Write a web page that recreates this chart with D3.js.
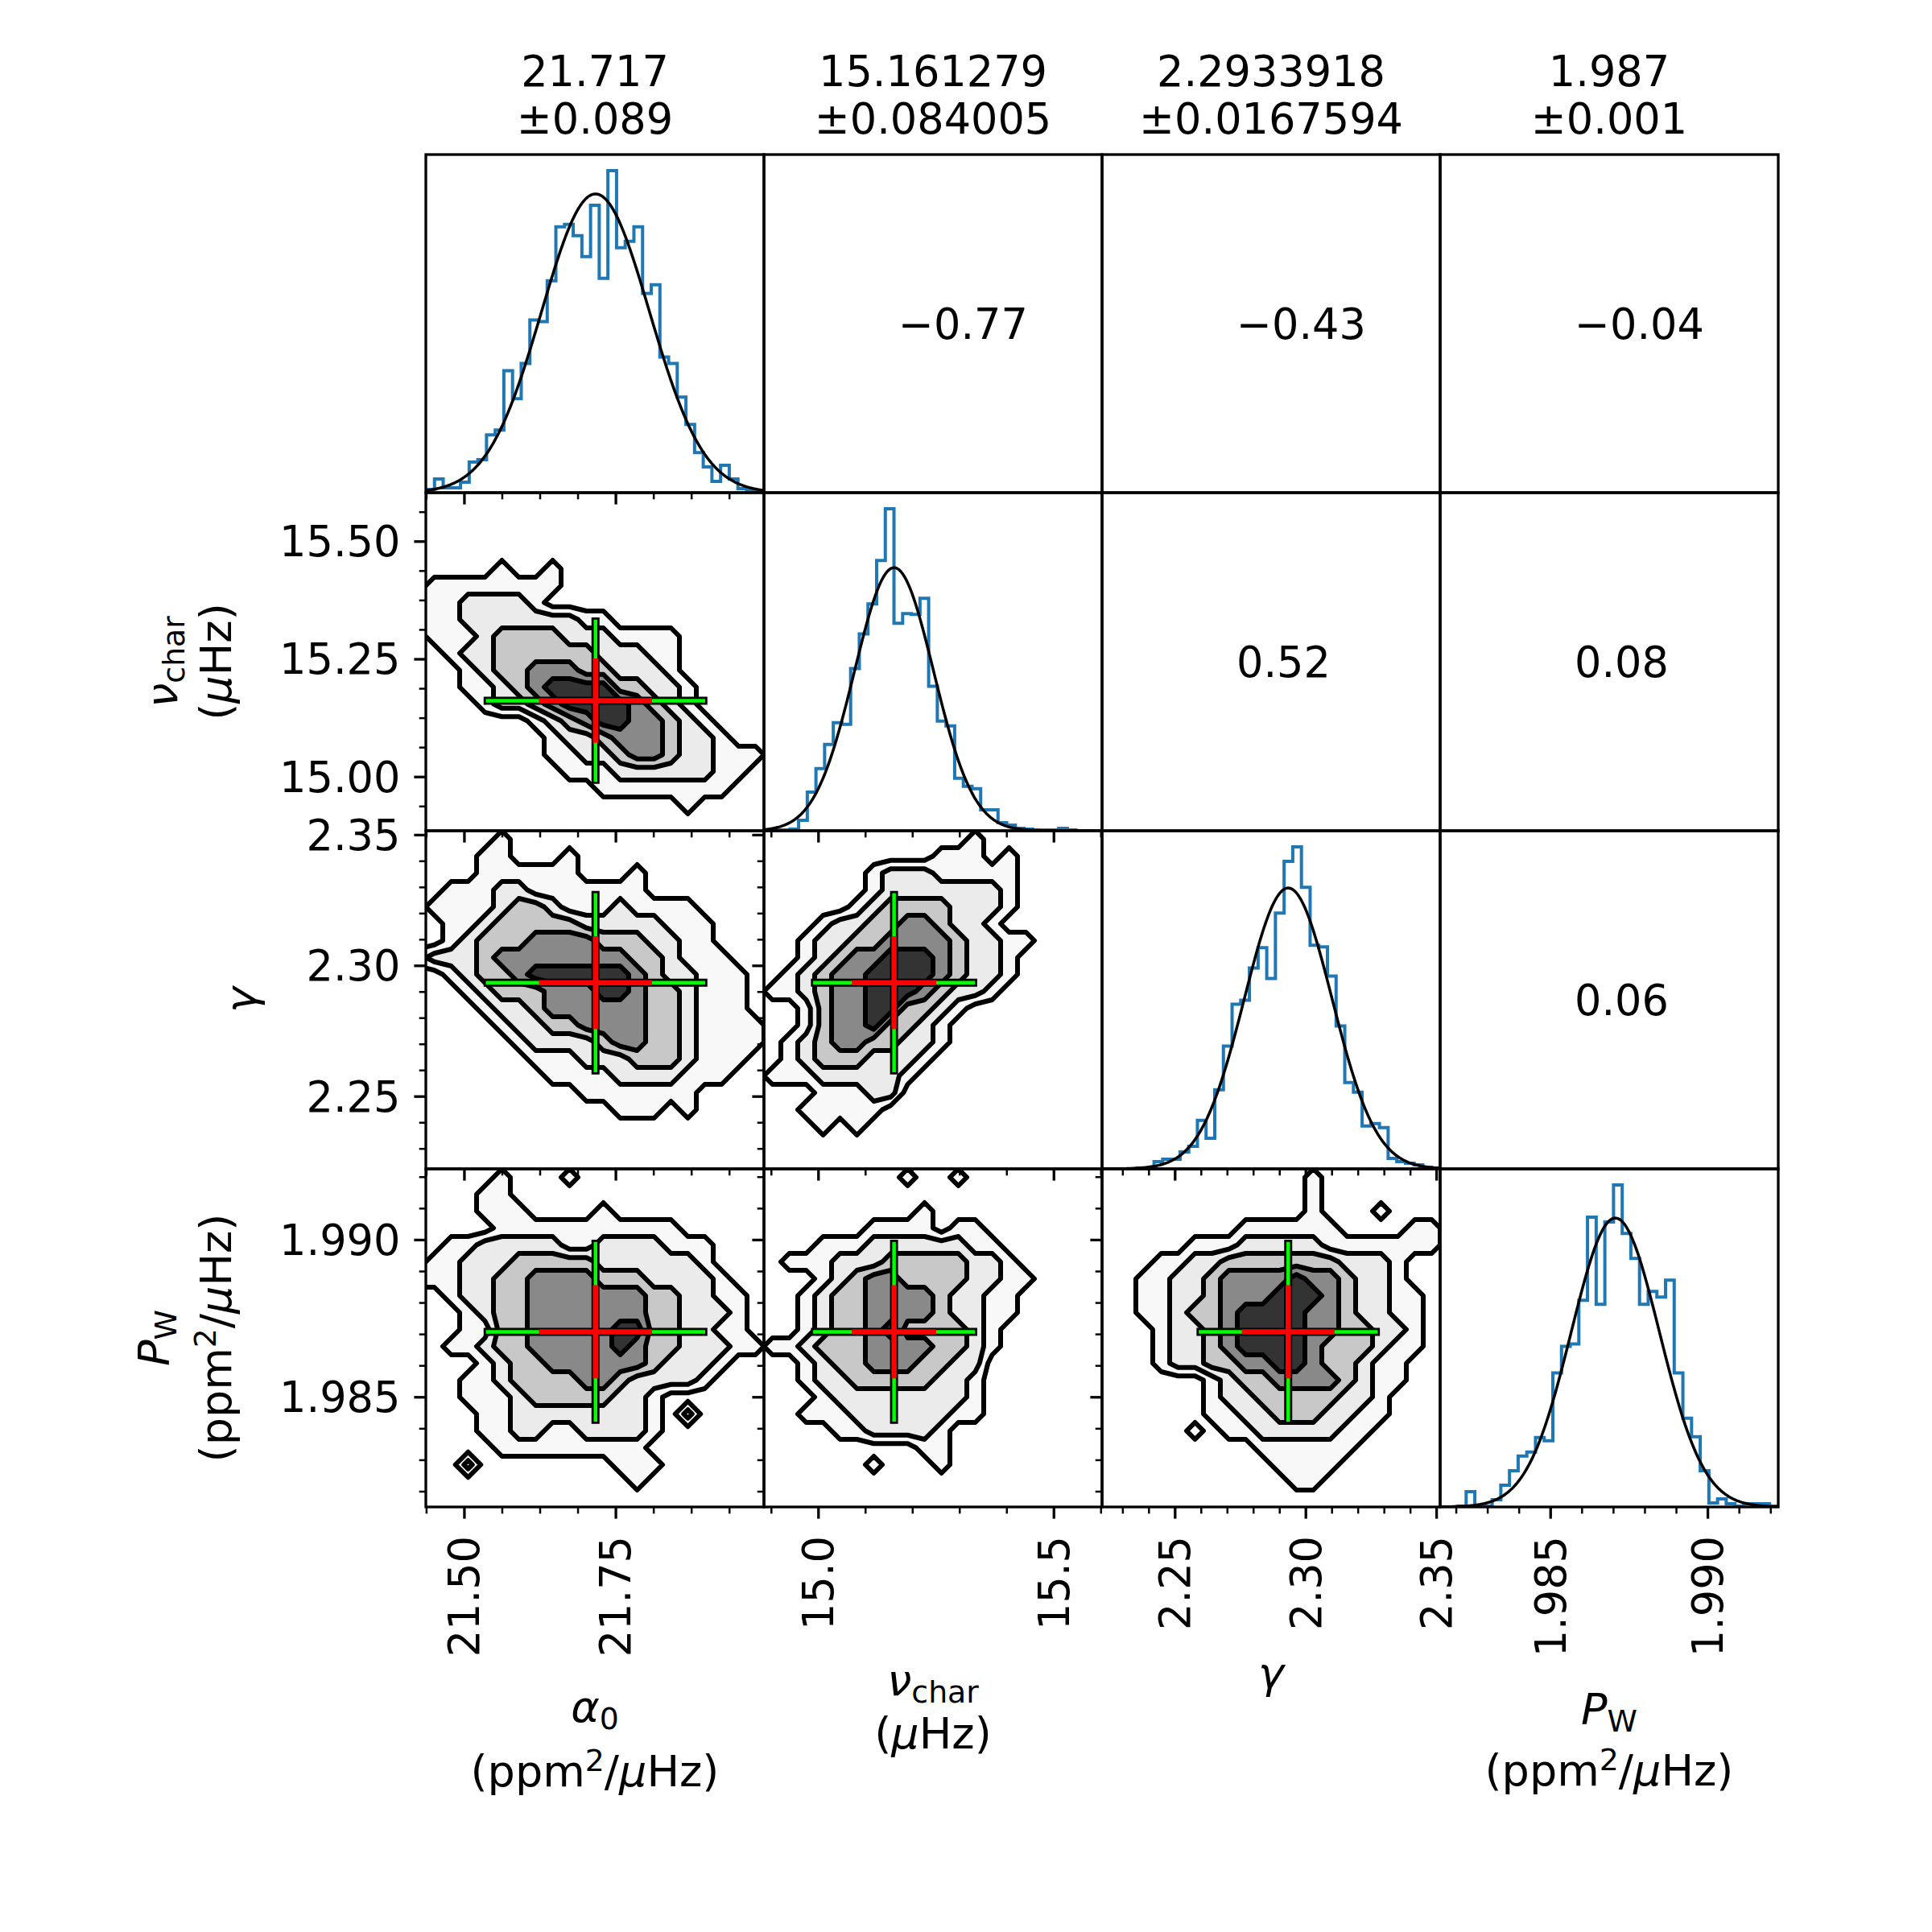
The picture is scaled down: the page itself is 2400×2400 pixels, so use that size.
<!DOCTYPE html>
<html lang="en">
<head>
<meta charset="UTF-8">
<title>Corner plot</title>
<script src="https://cdn.jsdelivr.net/npm/d3@7"></script>
<style>
  body { margin: 0; background: #fff; }
  svg text { font-family: "DejaVu Sans", sans-serif; fill: #000; }
</style>
</head>
<body>
<div id="chart"></div>
<script>
// ---- data ----
const meanLabels = ["21.717", "15.161279", "2.2933918", "1.987"];
const sigmaLabels = ["±0.089", "±0.084005", "±0.0167594", "±0.001"];
// unrounded values used for the crosses and fitted curves
const fitMeans = [21.717, 15.161279, 2.2933918, 1.98707];
const fitSigmas = [0.089, 0.084005, 0.0167594, 0.0014];

const axisMin = [21.437, 14.885, 2.2222, 1.9815];
const axisMax = [21.995, 15.603, 2.3515, 1.99225];

const majorTicksX = [[21.50, 21.75], [15.0, 15.5], [2.25, 2.30, 2.35], [1.985, 1.990]];
const minorStepX = [0.0625, 0.1, 0.01, 0.001];
const tickFormatX = [".2f", ".1f", ".2f", ".3f"];
const majorTicksY = [[], [15.00, 15.25, 15.50], [2.25, 2.30, 2.35], [1.985, 1.990]];
const minorStepY = [0, 0.0625, 0.01, 0.001];
const tickFormatY = ["", ".2f", ".2f", ".3f"];

// correlation shown in upper panel (row, col)
const corrCells = [
  { r: 0, c: 1, v: -0.77 }, { r: 0, c: 2, v: -0.43 }, { r: 0, c: 3, v: -0.04 },
  { r: 1, c: 2, v: 0.52 }, { r: 1, c: 3, v: 0.08 }, { r: 2, c: 3, v: 0.06 }
];

// 1D histograms (39 bins across each axis range)
const histAlpha0 = [4,17,6,6,13,38,41,72,78,152,117,161,215,213,264,331,334,320,294,358,267,401,305,313,331,248,259,169,161,119,85,50,32,14,34,17,5,3,1];
const histNuChar = [0,1,1,2,13,48,77,107,134,132,201,244,281,335,399,257,269,268,288,179,136,130,65,55,52,26,26,10,7,3,2,1,1,1,3,1,0,0,0];
const histGamma = [0,0,0,0,1,1,9,12,12,21,28,60,38,98,152,204,209,249,274,236,317,381,399,349,277,275,239,177,107,95,53,56,51,13,9,7,5,2,1];
const histPW = [0,0,1,19,1,1,9,27,45,63,68,86,82,166,199,202,256,359,251,353,399,339,308,251,267,260,281,166,110,87,45,5,10,4,1,4,4,4,1];
const fitPeak = [372, 326, 348, 358];

// 2D density levels (0-5) on a 22x22 grid, top row first, one padding cell each side
const densityNuAlpha = [
  "0000000000000000000000","0000000000000000000000","0000000000000000000000","0000000000000000000000",
  "0000000000000000000000","0000010010000000000000","0111111110000000000000","1112222100000000000000",
  "1112222222110000000000","0111233332221111000000","0012233333322211000000","0001233444332221000000",
  "0001123455553322100000","0000122345555432100000","0000000123455443210000","0000000012234443221000",
  "0000000011223443221110","0000000001112222221100","0000000000011111111000","0000000000000000100000",
  "0000000000000000000000","0000000000000000000000"
];
const densityGammaAlpha = [
  "0000000000000000000000","0000010000000000000000","0000110001000000000000","0000111111000100000000",
  "0011122111111100000000","0111123321112111100000","0011233333222221110000","0012333444433322110000",
  "1222344444444332111000","0012334555555432211100","0001233344455433211100","0000122344444433211100",
  "0000012233444433211110","0000001222234433211110","0000000111222333211100","0000000011112222111000",
  "0000000000111111100000","0000000000001110100000","0000000000000000000000","0000000000000000000000",
  "0000000000000000000000","0000000000000000000000"
];
const densityPwAlpha = [
  "0000000000000000000000","0000010001000000000000","0000110000000000000000","0000111000010000000000",
  "0000011111111111000000","0011222221122221110000","0112223333322222210000","1112233444433322221000",
  "0012233444444433221100","0001233444444433222100","0001133444445533221100","0011233444445433222110",
  "0000123344444432221000","0001123333443222210000","0001112333332210000000","0000112222222210200000",
  "0000112211222210000000","0000011111111100000000","0002000000001110000000","0000000000000100000000",
  "0000000000000000000000","0000000000000000000000"
];
const densityGammaNu = [
  "0000000000000000000000","0000000000000100000000","0000000000011101000000","0000000122211111000000",
  "0000000122222221000000","0000001233332221000000","0000122334432210000000","0001223344443221100000",
  "0001234455543221000000","0012344555543221000000","0112344555432210000000","0001344553321000000000",
  "0001344533210000000000","0012344332210000000000","0012333222100000000000","0111222221000000000000",
  "0000111220000000000000","0001111100000000000000","0000101000000000000000","0000000000000000000000",
  "0000000000000000000000","0000000000000000000000"
];
const densityPwNu = [
  "0000000000000000000000","0000000001001000000000","0000000000000000000000","0000000000100000000000",
  "0000000111101100000000","0000111222222110000000","0011122233333221000000","0000123443333221100000",
  "0001233444432211000000","0001233444432211000000","0001233453333210000000","0112333444433210000000",
  "0001233444332200000000","0001223333322100000000","0000122222222100000000","0001112222221100000000",
  "0000011222210000000000","0000000000110000000000","0000000100010000000000","0000000000000000000000",
  "0000000000000000000000","0000000000000000000000"
];
const densityPwGamma = [
  "0000000000000000000000","0000000000000100000000","0000000000000100000000","0000000000000100010000",
  "0000000001111110000110","0000001112222211111110","0000112233333332221000","0001122344445443221000",
  "0001122344455543221100","0001123345555443221100","0000122345555443322100","0000122345555433321100",
  "0000122334455433211000","0000000123344443211000","0000000122333332210000","0000000112233322110000",
  "0000001011222221100000","0000000000111111000000","0000000000011110000000","0000000000001100000000",
  "0000000000000000000000","0000000000000000000000"
];

// ---- layout ----
const W = 2400, H = 2400;
const gridLeft = 529, gridTop = 192, cell = 420;
const fontSize = 52.5, labelSize = 54;
const majorLen = 14.6, minorLen = 8.3;
const levelFills = ["#f8f8f8", "#ebebeb", "#c8c8c8", "#898989", "#333333"];
const thresholds = [0.5, 1.5, 2.5, 3.5, 4.5];

const histCounts = [histAlpha0, histNuChar, histGamma, histPW];
const densityPanels = [
  { r: 1, c: 0, grid: densityNuAlpha },
  { r: 2, c: 0, grid: densityGammaAlpha },
  { r: 3, c: 0, grid: densityPwAlpha },
  { r: 2, c: 1, grid: densityGammaNu },
  { r: 3, c: 1, grid: densityPwNu },
  { r: 3, c: 2, grid: densityPwGamma }
];

const xScales = axisMin.map((mn, i) =>
  d3.scaleLinear().domain([mn, axisMax[i]]).range([gridLeft + i * cell, gridLeft + (i + 1) * cell]));
const yScales = axisMin.map((mn, i) =>
  d3.scaleLinear().domain([mn, axisMax[i]]).range([gridTop + (i + 1) * cell, gridTop + i * cell]));

function box(r, c) {
  return { x: gridLeft + c * cell, y: gridTop + r * cell, w: cell, h: cell };
}

function minorTicks(i, step, majors) {
  const out = [];
  if (!step) return out;
  for (let k = Math.ceil(axisMin[i] / step - 1e-9); k * step <= axisMax[i] + 1e-9; k++) {
    const v = +(k * step).toFixed(6);
    if (!majors.some(m => Math.abs(m - v) < step / 10)) out.push(v);
  }
  return out;
}

const svg = d3.select("#chart").append("svg")
  .attr("width", W).attr("height", H)
  .attr("viewBox", `0 0 ${W} ${H}`);
svg.append("rect").attr("width", W).attr("height", H).attr("fill", "#fff");
const defs = svg.append("defs");

function clipFor(r, c) {
  const id = `clip-${r}-${c}`;
  const b = box(r, c);
  defs.append("clipPath").attr("id", id)
    .append("rect").attr("x", b.x).attr("y", b.y).attr("width", b.w).attr("height", b.h);
  return `url(#${id})`;
}

const content = svg.append("g");

// ---- 2D density contours ----
densityPanels.forEach(p => {
  const n = p.grid.length;
  const values = [];
  p.grid.forEach(row => {
    const s = row.padEnd(n, "0").slice(0, n);
    for (const ch of s) values.push(+ch);
  });
  const contours = d3.contours().size([n, n]).thresholds(thresholds)(values);
  // grid coordinate g -> data: sample k sits at g = k + 0.5, sample 1 at the axis minimum
  const gx = d3.scaleLinear().domain([1, n - 1]).range([axisMin[p.c], axisMax[p.c]]);
  const gy = d3.scaleLinear().domain([1, n - 1]).range([axisMax[p.r], axisMin[p.r]]);
  const xs = xScales[p.c], ys = yScales[p.r];
  const path = d3.geoPath(d3.geoTransform({
    point(px, py) { this.stream.point(xs(gx(px)), ys(gy(py))); }
  }));
  const g = content.append("g").attr("clip-path", clipFor(p.r, p.c));
  g.selectAll("path.fill").data(contours).join("path")
    .attr("class", "fill")
    .attr("d", path)
    .attr("fill", (d, i) => levelFills[i])
    .attr("fill-rule", "evenodd")
    .attr("stroke", "none");
  g.selectAll("path.line").data(contours).join("path")
    .attr("class", "line")
    .attr("d", path)
    .attr("fill", "none")
    .attr("stroke", "#000")
    .attr("stroke-width", 6)
    .attr("stroke-linejoin", "round");

  // mean +- 1 and 2 sigma cross
  const mx = fitMeans[p.c], my = fitMeans[p.r], sx = fitSigmas[p.c], sy = fitSigmas[p.r];
  const segs = [
    { x1: mx - 2 * sx, x2: mx + 2 * sx, y1: my, y2: my, col: "#000", w: 10 },
    { x1: mx, x2: mx, y1: my - 2 * sy, y2: my + 2 * sy, col: "#000", w: 10 },
    { x1: mx - 2 * sx, x2: mx + 2 * sx, y1: my, y2: my, col: "#00ff00", w: 4.5 },
    { x1: mx, x2: mx, y1: my - 2 * sy, y2: my + 2 * sy, col: "#00ff00", w: 4.5 },
    { x1: mx - sx, x2: mx + sx, y1: my, y2: my, col: "#ff0000", w: 6.5 },
    { x1: mx, x2: mx, y1: my - sy, y2: my + sy, col: "#ff0000", w: 6.5 }
  ];
  g.selectAll("line.cross").data(segs).join("line")
    .attr("class", "cross")
    .attr("x1", d => xs(d.x1)).attr("x2", d => xs(d.x2))
    .attr("y1", d => ys(d.y1)).attr("y2", d => ys(d.y2))
    .attr("stroke", d => d.col).attr("stroke-width", d => d.w)
    .attr("stroke-linecap", "square");
});

// ---- 1D histograms with fitted normal curve ----
histCounts.forEach((counts, i) => {
  const b = box(i, i);
  const x = xScales[i];
  const y = d3.scaleLinear().domain([0, d3.max(counts) * 1.05]).range([b.y + b.h, b.y]);
  const bw = (axisMax[i] - axisMin[i]) / counts.length;
  const pts = [[axisMin[i], 0]];
  counts.forEach((v, k) => {
    pts.push([axisMin[i] + k * bw, v]);
    pts.push([axisMin[i] + (k + 1) * bw, v]);
  });
  pts.push([axisMin[i] + counts.length * bw, 0]);
  const g = content.append("g").attr("clip-path", clipFor(i, i));
  g.append("path")
    .attr("d", d3.line().x(d => x(d[0])).y(d => y(d[1]))(pts))
    .attr("fill", "none").attr("stroke", "#1f77b4").attr("stroke-width", 4)
    .attr("stroke-linejoin", "miter");
  const xv = d3.range(0, 241).map(t => axisMin[i] + t * (axisMax[i] - axisMin[i]) / 240);
  const curve = xv.map(v => [v, fitPeak[i] * Math.exp(-0.5 * ((v - fitMeans[i]) / fitSigmas[i]) ** 2)]);
  g.append("path")
    .attr("d", d3.line().x(d => x(d[0])).y(d => y(d[1]))(curve))
    .attr("fill", "none").attr("stroke", "#000").attr("stroke-width", 3.5);
});

// ---- correlation values ----
corrCells.forEach(d => {
  const b = box(d.r, d.c);
  svg.append("text")
    .attr("x", b.x + 167).attr("y", b.y + b.h / 2 + 19)
    .attr("font-size", fontSize)
    .text(d3.format(".2f")(d.v).replace("-", "\u2212"));
});

// ---- spines ----
for (let r = 0; r < 4; r++) {
  for (let c = 0; c < 4; c++) {
    const b = box(r, c);
    svg.append("rect").attr("x", b.x).attr("y", b.y).attr("width", b.w).attr("height", b.h)
      .attr("fill", "none").attr("stroke", "#000").attr("stroke-width", 3.3);
  }
}

// ---- ticks ----
function styleAxis(g, width) {
  g.select(".domain").remove();
  g.attr("font-size", fontSize).attr("font-family", "DejaVu Sans");
  g.selectAll(".tick line").attr("stroke", "#000").attr("stroke-width", width);
  g.selectAll(".tick text").attr("fill", "#000");
}

for (let r = 0; r < 4; r++) {
  for (let c = 0; c <= r; c++) {
    const b = box(r, c);
    // x ticks along the bottom edge
    const gxMinor = svg.append("g").attr("transform", `translate(0,${b.y + b.h})`)
      .call(d3.axisBottom(xScales[c]).tickValues(minorTicks(c, minorStepX[c], majorTicksX[c]))
        .tickSize(minorLen).tickFormat(() => ""));
    styleAxis(gxMinor, 2.5);
    const gxMajor = svg.append("g").attr("transform", `translate(0,${b.y + b.h})`)
      .call(d3.axisBottom(xScales[c]).tickValues(majorTicksX[c]).tickSize(majorLen)
        .tickFormat(r === 3 ? d3.format(tickFormatX[c]) : () => ""));
    styleAxis(gxMajor, 3.3);
    if (r === 3) {
      gxMajor.selectAll(".tick text")
        .attr("transform", "rotate(-90)")
        .attr("x", -36).attr("y", 0).attr("dy", "0.35em")
        .attr("text-anchor", "end");
    }
    // y ticks along the left edge (not on the diagonal)
    if (c < r) {
      const gyMinor = svg.append("g").attr("transform", `translate(${b.x},0)`)
        .call(d3.axisLeft(yScales[r]).tickValues(minorTicks(r, minorStepY[r], majorTicksY[r]))
          .tickSize(minorLen).tickFormat(() => ""));
      styleAxis(gyMinor, 2.5);
      const gyMajor = svg.append("g").attr("transform", `translate(${b.x},0)`)
        .call(d3.axisLeft(yScales[r]).tickValues(majorTicksY[r]).tickSize(majorLen).tickPadding(17)
          .tickFormat(c === 0 ? d3.format(tickFormatY[r]) : () => ""));
      styleAxis(gyMajor, 3.3);
      gyMajor.selectAll(".tick text").attr("dy", "0.35em");
    }
  }
}

// ---- titles ----
meanLabels.forEach((t, i) => {
  const cx = gridLeft + i * cell + cell / 2;
  svg.append("text").attr("x", cx).attr("y", 107).attr("text-anchor", "middle")
    .attr("font-size", fontSize).text(t);
  svg.append("text").attr("x", cx).attr("y", 166).attr("text-anchor", "middle")
    .attr("font-size", fontSize).text(sigmaLabels[i]);
});

// ---- axis labels ----
const unitPPM = [{ t: "(ppm" }, { t: "2", sup: true }, { t: "/" }, { t: "\u03bc", it: true }, { t: "Hz)" }];
const unitHz = [{ t: "(" }, { t: "\u03bc", it: true }, { t: "Hz)" }];
const labelLines = [
  [[{ t: "\u03b1", it: true }, { t: "0", sub: true }], unitPPM],
  [[{ t: "\u03bd", it: true }, { t: "char", sub: true }], unitHz],
  [[{ t: "\u03b3", it: true }]],
  [[{ t: "P", it: true }, { t: "W", sub: true }], unitPPM]
];
const bottomBaselines = [[2139, 2219], [2106, 2172], [2097], [2142, 2218]];
const leftBaselines = [null, [220, 287], [318], [210, 287]];

function richText(parent, segs) {
  const t = parent.append("text").attr("text-anchor", "middle").attr("font-size", labelSize);
  let shift = 0;
  segs.forEach(s => {
    const ts = t.append("tspan").text(s.t);
    const target = s.sub ? 9 : s.sup ? -19 : 0;
    if (target !== shift) ts.attr("dy", target - shift);
    shift = target;
    if (s.sub || s.sup) ts.attr("font-size", labelSize * 0.7);
    if (s.it) ts.attr("font-style", "italic");
  });
  return t;
}

labelLines.forEach((lines, i) => {
  const cx = gridLeft + i * cell + cell / 2;
  lines.forEach((segs, k) => {
    richText(svg, segs).attr("x", cx).attr("y", bottomBaselines[i][k]);
  });
  if (i > 0) {
    const cy = gridTop + i * cell + cell / 2;
    lines.forEach((segs, k) => {
      const g = svg.append("g").attr("transform", `translate(${leftBaselines[i][k]},${cy}) rotate(-90)`);
      richText(g, segs).attr("x", 0).attr("y", 0);
    });
  }
});
</script>
</body>
</html>
